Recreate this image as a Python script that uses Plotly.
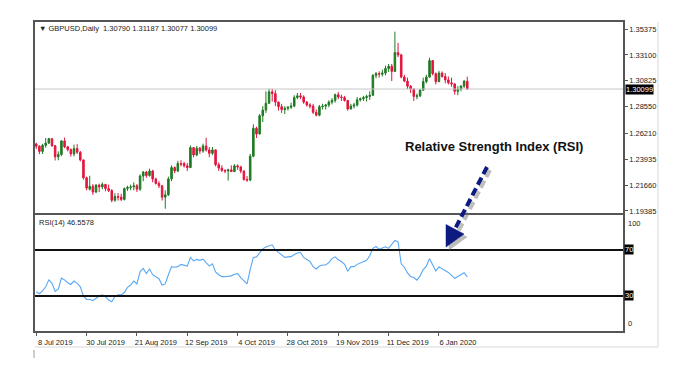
import plotly.graph_objects as go
import pandas as pd

# ---------------- data ----------------
holidays = ["2019-12-25", "2020-01-01"]
dates = [d.strftime("%Y-%m-%d") for d in
         pd.bdate_range("2019-07-08", "2020-01-17", freq="C", holidays=holidays)]

open_ = [
    1.2528, 1.2508, 1.2462, 1.2515, 1.2535,
    1.2574, 1.2512, 1.2414, 1.2435, 1.2554,
    1.2502, 1.2478, 1.2440, 1.2487, 1.2455,
    1.2387, 1.2230, 1.2130, 1.2155, 1.2105,
    1.2165, 1.2150, 1.2172, 1.2135, 1.2118,
    1.2032, 1.2065, 1.2060, 1.2040, 1.2135,
    1.2145, 1.2150, 1.2160, 1.2130, 1.2245,
    1.2280, 1.2250, 1.2290, 1.2220, 1.2180,
    1.2160, 1.2060, 1.2080, 1.2220, 1.2320,
    1.2290, 1.2355, 1.2355, 1.2335, 1.2320,
    1.2495, 1.2430, 1.2490, 1.2465, 1.2510,
    1.2475, 1.2445, 1.2475, 1.2345, 1.2315,
    1.2295, 1.2290, 1.2300, 1.2285, 1.2335,
    1.2325, 1.2290, 1.2215, 1.2210, 1.2420,
    1.2665, 1.2615, 1.2775, 1.2825, 1.2885,
    1.2985, 1.2970, 1.2895, 1.2855, 1.2830,
    1.2840, 1.2850, 1.2860, 1.2935, 1.2950,
    1.2940, 1.2895, 1.2870, 1.2860, 1.2805,
    1.2780, 1.2855, 1.2860, 1.2870, 1.2895,
    1.2910, 1.2960, 1.2940, 1.2935, 1.2910,
    1.2835, 1.2860, 1.2870, 1.2915, 1.2925,
    1.2935, 1.2945, 1.2955, 1.3130, 1.3145,
    1.3140, 1.3150, 1.3190, 1.3210, 1.3165,
    1.3330, 1.3310, 1.3115, 1.3080, 1.3035,
    1.3010, 1.2945, 1.2950, 1.3000,
    1.3075, 1.3115, 1.3260, 1.3145,
    1.3075, 1.3150, 1.3120, 1.3090, 1.3065,
    1.3055, 1.2990, 1.3010, 1.3035, 1.30790,
]
high = [
    1.2538, 1.2516, 1.2528, 1.2580, 1.2581,
    1.2576, 1.2518, 1.2462, 1.2560, 1.2583,
    1.2510, 1.2488, 1.2522, 1.2526, 1.2465,
    1.2390, 1.2240, 1.2248, 1.2175, 1.2175,
    1.2178, 1.2190, 1.2176, 1.2170, 1.2130,
    1.2094, 1.2095, 1.2090, 1.2145, 1.2160,
    1.2170, 1.2190, 1.2175, 1.2260, 1.2290,
    1.2290, 1.2310, 1.2300, 1.2230, 1.2200,
    1.2165, 1.2120, 1.2240, 1.2340, 1.2330,
    1.2380, 1.2385, 1.2370, 1.2360, 1.2515,
    1.2500, 1.2510, 1.2500, 1.2530, 1.2582,
    1.2500, 1.2500, 1.2480, 1.2365, 1.2340,
    1.2305, 1.2310, 1.2340, 1.2350, 1.2348,
    1.2335, 1.2295, 1.2245, 1.2440, 1.2700,
    1.2680, 1.2790, 1.2860, 1.2990, 1.3012,
    1.3012, 1.3000, 1.2900, 1.2880, 1.2860,
    1.2860, 1.2890, 1.2955, 1.2975, 1.2975,
    1.2955, 1.2905, 1.2885, 1.2880, 1.2830,
    1.2870, 1.2880, 1.2880, 1.2910, 1.2930,
    1.2970, 1.2985, 1.2960, 1.2950, 1.2915,
    1.2880, 1.2890, 1.2940, 1.2935, 1.2950,
    1.2960, 1.2990, 1.3140, 1.3160, 1.3165,
    1.3180, 1.3215, 1.3230, 1.3230, 1.3514,
    1.3415, 1.3320, 1.3135, 1.3110, 1.3045,
    1.3015, 1.2970, 1.3010, 1.3110,
    1.3135, 1.3285, 1.3265, 1.3155,
    1.3170, 1.3165, 1.3150, 1.3120, 1.3110,
    1.3060, 1.3035, 1.3045, 1.3090, 1.31187,
]
low = [
    1.2484, 1.2438, 1.2439, 1.2494, 1.2527,
    1.2501, 1.2382, 1.2384, 1.2420, 1.2490,
    1.2462, 1.2417, 1.2418, 1.2440, 1.2374,
    1.2213, 1.2120, 1.2118, 1.2080, 1.2095,
    1.2105, 1.2130, 1.2112, 1.2105, 1.2015,
    1.2020, 1.2030, 1.2025, 1.2030, 1.2115,
    1.2120, 1.2120, 1.2105, 1.2115, 1.2200,
    1.2230, 1.2240, 1.2190, 1.2170, 1.2140,
    1.2030, 1.1958, 1.2070, 1.2200, 1.2270,
    1.2280, 1.2330, 1.2320, 1.2290, 1.2315,
    1.2410, 1.2420, 1.2440, 1.2450, 1.2460,
    1.2410, 1.2430, 1.2330, 1.2290, 1.2280,
    1.2270, 1.2205, 1.2280, 1.2280, 1.2300,
    1.2270, 1.2205, 1.2195, 1.2200, 1.2410,
    1.2580, 1.2610, 1.2720, 1.2800, 1.2880,
    1.2900, 1.2860, 1.2820, 1.2800, 1.2790,
    1.2820, 1.2835, 1.2850, 1.2920, 1.2920,
    1.2880, 1.2855, 1.2840, 1.2790, 1.2770,
    1.2770, 1.2830, 1.2830, 1.2850, 1.2875,
    1.2890, 1.2920, 1.2905, 1.2900, 1.2820,
    1.2830, 1.2840, 1.2855, 1.2900, 1.2905,
    1.2900, 1.2915, 1.2950, 1.3105, 1.3110,
    1.3120, 1.3130, 1.3160, 1.3080, 1.3160,
    1.3290, 1.3105, 1.3070, 1.3010, 1.2975,
    1.2905, 1.2920, 1.2940, 1.2995,
    1.3060, 1.3110, 1.3130, 1.3050,
    1.3070, 1.3110, 1.3060, 1.3050, 1.3030,
    1.2960, 1.2955, 1.2990, 1.3020, 1.30077,
]
close = [
    1.2508, 1.2462, 1.2515, 1.2535, 1.2574,
    1.2512, 1.2414, 1.2435, 1.2554, 1.2502,
    1.2478, 1.2440, 1.2487, 1.2455, 1.2387,
    1.2230, 1.2140, 1.2155, 1.2105, 1.2165,
    1.2150, 1.2172, 1.2135, 1.2118, 1.2032,
    1.2065, 1.2060, 1.2040, 1.2135, 1.2145,
    1.2150, 1.2160, 1.2130, 1.2245, 1.2280,
    1.2250, 1.2290, 1.2220, 1.2180, 1.2160,
    1.2060, 1.2080, 1.2220, 1.2320, 1.2290,
    1.2355, 1.2350, 1.2335, 1.2320, 1.2495,
    1.2430, 1.2490, 1.2465, 1.2510, 1.2475,
    1.2445, 1.2475, 1.2345, 1.2315, 1.2295,
    1.2290, 1.2300, 1.2285, 1.2335, 1.2325,
    1.2290, 1.2215, 1.2210, 1.2420, 1.2665,
    1.2615, 1.2775, 1.2825, 1.2885, 1.2985,
    1.2970, 1.2895, 1.2855, 1.2830, 1.2840,
    1.2850, 1.2860, 1.2935, 1.2950, 1.2940,
    1.2895, 1.2870, 1.2860, 1.2805, 1.2780,
    1.2855, 1.2860, 1.2870, 1.2895, 1.2910,
    1.2960, 1.2940, 1.2935, 1.2910, 1.2835,
    1.2860, 1.2870, 1.2915, 1.2925, 1.2935,
    1.2945, 1.2955, 1.3130, 1.3145, 1.3140,
    1.3150, 1.3190, 1.3210, 1.3165, 1.3330,
    1.3310, 1.3115, 1.3080, 1.3035, 1.3010,
    1.2945, 1.2950, 1.3000, 1.3075,
    1.3115, 1.3260, 1.3145, 1.3075,
    1.3150, 1.3120, 1.3090, 1.3065, 1.3055,
    1.2990, 1.3010, 1.3035, 1.3079, 1.30099,
]
rsi = [
    33.7, 32.0, 34.5, 38.0, 44.0, 41.0, 34.0, 36.0, 45.5, 44.0,
    41.5, 40.0, 43.0, 41.0, 38.0, 30.0, 27.0, 27.0, 26.0, 28.0,
    30.0, 31.0, 29.5, 26.5, 25.0, 29.5, 31.0, 31.0, 33.0, 37.5,
    39.5, 43.0, 40.5, 51.0, 54.0, 49.5, 53.5, 48.5, 46.5, 45.0,
    39.5, 40.5, 48.5, 55.5, 55.0, 55.5, 57.5, 57.0, 56.0, 63.5,
    60.5, 61.8, 61.0, 62.0, 58.7, 56.0, 58.0, 51.0, 48.5, 46.8,
    46.8, 47.0, 47.5, 48.8, 49.5, 46.0, 43.0, 40.5, 53.0, 63.5,
    64.0, 67.5, 71.0, 72.5, 73.8, 74.5, 70.0, 68.0, 66.0, 63.6,
    64.0, 64.2, 66.0, 67.3, 67.8, 63.5, 61.8, 60.0, 55.5, 53.5,
    56.0, 57.0, 57.0, 59.0, 62.5, 64.0, 61.5, 60.0, 57.5, 51.5,
    55.5, 55.5, 57.5, 58.5, 59.5, 61.0, 65.0, 71.4, 73.0, 70.6,
    71.8, 72.8, 71.5, 75.0, 78.3, 77.0, 58.0, 55.0, 50.0, 47.0,
    46.0, 43.8, 47.5, 53.0, 56.0, 62.5, 57.5, 51.8, 55.3, 53.8,
    52.0, 50.5, 48.0, 45.4, 47.0, 48.5, 50.2, 46.5578,
]

date_ticks = ["2019-07-08", "2019-07-30", "2019-08-21", "2019-09-12", "2019-10-04",
              "2019-10-28", "2019-11-19", "2019-12-11", "2020-01-06"]
date_labels = ["8 Jul 2019", "30 Jul 2019", "21 Aug 2019", "12 Sep 2019", "4 Oct 2019",
               "28 Oct 2019", "19 Nov 2019", "11 Dec 2019", "6 Jan 2020"]
price_ticks = [1.19385, 1.21660, 1.23935, 1.26210, 1.28550, 1.30825, 1.33100, 1.35375]
last_price = 1.30099
rsi_levels = [70, 30]

assert len(dates) == len(open_) == len(high) == len(low) == len(close) == len(rsi)

# ---------------- geometry (page pixels; the page body has an 8px margin) ----------------
OFF = 8
L, R, T, B = 35, 623, 22, 331
W, H = R - L, B - T


def px(x):
    return (x - L) / W


def py(y):
    return (B - y) / H


FONT = "Liberation Sans"
GREEN = "#1f7a23"
RED = "#e2163f"
NAVY = "#0d1a80"

fig = go.Figure()
fig.add_trace(go.Candlestick(
    x=dates, open=open_, high=high, low=low, close=close,
    xaxis="x", yaxis="y",
    increasing=dict(line=dict(color=GREEN, width=1), fillcolor=GREEN),
    decreasing=dict(line=dict(color=RED, width=1), fillcolor=RED),
    whiskerwidth=0, showlegend=False, hoverinfo="skip",
))
fig.add_trace(go.Scatter(
    x=dates, y=rsi, xaxis="x2", yaxis="y2", mode="lines",
    line=dict(color="#58a8f2", width=1.1), showlegend=False, hoverinfo="skip",
))

axis_line = dict(showline=True, mirror=True, linecolor="#555555", linewidth=1.5,
                 showgrid=False, zeroline=False)

fig.update_layout(
    width=700, height=370,
    margin=dict(l=L - OFF, r=700 - R + OFF, t=T - OFF, b=370 - B + OFF),
    paper_bgcolor="white", plot_bgcolor="white",
    font=dict(family=FONT, size=8, color="#222222"),
    xaxis=dict(type="category", domain=[0, 1], anchor="y", range=[-0.4, 186.5],
               showticklabels=False, ticks="", rangeslider=dict(visible=False),
               categoryorder="array", categoryarray=dates, **axis_line),
    xaxis2=dict(type="category", domain=[0, 1], anchor="y2", matches="x",
                range=[-0.4, 186.5], categoryorder="array", categoryarray=dates,
                tickmode="array", tickvals=date_ticks, ticktext=date_labels,
                ticks="outside", ticklen=3, tickcolor="#555555",
                tickfont=dict(size=7.5, color="#222222"), ticklabelshift=19,
                tickangle=0, **axis_line),
    yaxis=dict(domain=[0.382, 1], anchor="x", side="right",
               range=[1.19209, 1.35990],
               tickmode="array", tickvals=price_ticks,
               ticktext=[f"{v:.5f}" for v in price_ticks],
               ticks="outside", ticklen=3, tickcolor="#555555",
               tickfont=dict(size=7.5, color="#222222"), **axis_line),
    yaxis2=dict(domain=[0, 0.3755], anchor="x2", side="right",
                range=[-0.43, 100.43], showticklabels=False,
                tickmode="array", tickvals=rsi_levels, ticks="outside",
                ticklen=3, tickcolor="#555555", **axis_line),
)

shapes = []
# current price line
shapes.append(dict(type="line", xref="paper", yref="y", x0=0, x1=1,
                   y0=last_price, y1=last_price,
                   line=dict(color="#c6c6c6", width=1)))
# RSI levels
for lv in rsi_levels:
    shapes.append(dict(type="line", xref="paper", yref="y2", x0=0, x1=1,
                       y0=lv, y1=lv, line=dict(color="#111111", width=2)))
# outer light frame
shapes.append(dict(type="line", xref="paper", yref="paper",
                   x0=px(658), x1=px(658), y0=py(22), y1=py(347),
                   line=dict(color="#e4e4e4", width=1.5)))
shapes.append(dict(type="line", xref="paper", yref="paper",
                   x0=px(35), x1=px(658), y0=py(347), y1=py(347),
                   line=dict(color="#e4e4e4", width=1.5)))
shapes.append(dict(type="line", xref="paper", yref="paper",
                   x0=px(34), x1=px(34), y0=py(350), y1=py(358),
                   line=dict(color="#9a9a9a", width=1)))

# dashed arrow with shadow
start = (487, 167)
base = (455, 229)
tip = (446, 247)
c1 = (464, 234)
c2 = (446, 224.5)
for dx, dy, col in [(3, 3, "rgba(110,110,110,0.45)"), (0, 0, NAVY)]:
    shapes.append(dict(type="line", xref="paper", yref="paper",
                       x0=px(start[0] + dx), y0=py(start[1] + dy),
                       x1=px(base[0] + dx), y1=py(base[1] + dy),
                       line=dict(color=col, width=4, dash="8px,4px")))
    path = "M {} {} L {} {} L {} {} Z".format(
        px(tip[0] + dx), py(tip[1] + dy), px(c1[0] + dx), py(c1[1] + dy),
        px(c2[0] + dx), py(c2[1] + dy))
    shapes.append(dict(type="path", xref="paper", yref="paper", path=path,
                       fillcolor=col, line=dict(color=col, width=0.5)))
fig.update_layout(shapes=shapes)

ann = []
ann.append(dict(xref="paper", yref="paper", x=px(37), y=py(29), xanchor="left",
                yanchor="middle", showarrow=False,
                text="▼ GBPUSD,Daily  1.30790 1.31187 1.30077 1.30099",
                font=dict(size=7.5, color="#222222")))
ann.append(dict(xref="paper", yref="paper", x=px(37), y=py(222), xanchor="left",
                yanchor="middle", showarrow=False, text="RSI(14) 46.5578",
                font=dict(size=7.5, color="#222222")))
ann.append(dict(xref="paper", yref="y", x=1, y=last_price, xanchor="left",
                yanchor="middle", xshift=2, showarrow=False,
                text=f"{last_price:.5f}", bgcolor="#000000", borderpad=0,
                font=dict(size=7.5, color="white")))
for lv in rsi_levels:
    ann.append(dict(xref="paper", yref="y2", x=1, y=lv, xanchor="left",
                    yanchor="middle", xshift=1, showarrow=False, text=str(lv),
                    bgcolor="#000000", borderpad=0,
                    font=dict(size=7.5, color="white")))
ann.append(dict(xref="paper", yref="y2", x=1, y=100, xanchor="left",
                yanchor="top", xshift=3, yshift=-2, showarrow=False, text="100",
                font=dict(size=7.5, color="#222222")))
ann.append(dict(xref="paper", yref="y2", x=1, y=0, xanchor="left",
                yanchor="bottom", xshift=3, yshift=1, showarrow=False, text="0",
                font=dict(size=7.5, color="#222222")))
ann.append(dict(xref="paper", yref="paper", x=px(494), y=py(146),
                xanchor="center", yanchor="middle", showarrow=False,
                text="<b>Relative Strength Index (RSI)</b>",
                font=dict(size=13, color="#111111", family=FONT)))
fig.update_layout(annotations=ann)

fig.write_html("out.html")
